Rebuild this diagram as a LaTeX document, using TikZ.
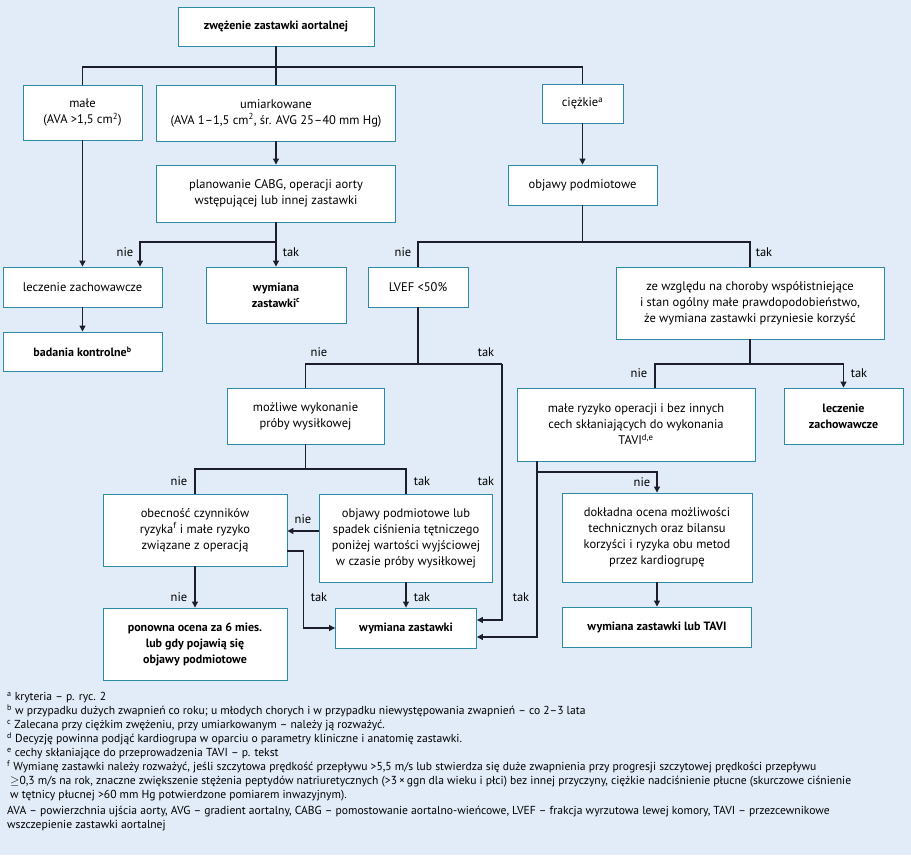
\documentclass[tikz,border=0pt]{standalone}
\usepackage{fontspec}
\setmainfont{PT Sans}
\usetikzlibrary{arrows.meta,positioning,calc}
\definecolor{panelbg}{HTML}{E1ECF8}
\definecolor{boxedge}{HTML}{2B8AA6}
\definecolor{linkcol}{HTML}{1C1F2B}
\newcommand\boxsz{\fontsize{12.5}{16}\selectfont}
\newcommand\boldsz{\fontsize{12}{16}\selectfont\bfseries}
\newcommand\notesz{\fontsize{11.6}{14}\selectfont}
\tikzset{
  flowarr/.style={-{Triangle[length=6pt,width=6pt]}, line width=1.1pt, draw=linkcol},
  flowline/.style={line width=1.1pt, draw=linkcol},
  flowbox/.style={draw=boxedge, fill=white, line width=0.9pt, align=center, inner sep=2pt},
}

\begin{document}
\begin{tikzpicture}[
  x=1pt, y=-1pt,
  font=\boxsz,
  bx/.style 2 args={flowbox, minimum width=#1pt, minimum height=#2pt},
  hb/.style={font=\boldsz},
  lbl/.style={font=\boxsz, inner sep=0pt},
]
  \fill[panelbg] (0,0) rectangle (911,855);

  % boxes
  \node[bx={196}{39}, hb] (stenosis) at (276,26.5) {zwężenie zastawki aortalnej};
  \node[bx={119}{55}] (mild) at (82.5,112.5) {małe\\(AVA >1,5 cm\textsuperscript{2})};
  \node[bx={239}{56}] (moderate) at (276,113) {umiarkowane\\(AVA 1–1,5 cm\textsuperscript{2}, śr. AVG 25–40 mm Hg)};
  \node[bx={81}{39}] (severe) at (582.5,103.5) {ciężkie\textsuperscript{a}};
  \node[bx={239}{57}] (planning) at (276,193.5) {planowanie CABG, operacji aorty\\wstępującej lub innej zastawki};
  \node[bx={149}{40}] (symptoms) at (582.5,185) {objawy podmiotowe};
  \node[bx={159}{40}] (conservA) at (82.5,287) {leczenie zachowawcze};
  \node[bx={140}{56}, hb] (replC) at (276,295) {wymiana\\zastawki\textsuperscript{c}};
  \node[bx={100}{40}] (lvef) at (418,287) {LVEF <50\%};
  \node[bx={268}{72}] (comorb) at (750,303) {ze względu na choroby współistniejące\\i stan ogólny małe prawdopodobieństwo,\\że wymiana zastawki przyniesie korzyść};
  \node[bx={159}{39}, hb] (followup) at (82.5,351.5) {badania kontrolne\textsuperscript{b}};
  \node[bx={157}{56}] (exer) at (305.5,416) {możliwe wykonanie\\próby wysiłkowej};
  \node[bx={238}{73}] (lowrisk) at (636,424.5) {małe ryzyko operacji i bez innych\\cech skłaniających do wykonania\\TAVI\textsuperscript{d,e}};
  \node[bx={119}{56}, hb] (conservB) at (843.5,416) {leczenie\\zachowawcze};
  \node[bx={184}{72}] (risk) at (195,530) {obecność czynników\\ryzyka\textsuperscript{f} i małe ryzyko\\związane z operacją};
  \node[bx={173}{88}] (symLub) at (406,538) {objawy podmiotowe lub\\spadek ciśnienia tętniczego\\poniżej wartości wyjściowej\\w czasie próby wysiłkowej};
  \node[bx={190}{89}] (heart) at (657,537.5) {dokładna ocena możliwości\\technicznych oraz bilansu\\korzyści i ryzyka obu metod\\przez kardiogrupę};
  \node[bx={184}{72}, hb] (reassess) at (195,644) {ponowna ocena za 6 mies.\\lub gdy pojawią się\\objawy podmiotowe};
  \node[bx={141}{40}, hb] (replZ) at (406,628) {wymiana zastawki};
  \node[bx={189}{40}, hb] (replT) at (657,627) {wymiana zastawki lub TAVI};

  % top split
  \coordinate (j1) at (276,67);
  \draw[flowline] (stenosis) -- (j1);
  \draw[flowline] (mild.north) |- (j1) -| (severe.north);
  \draw[flowline] (j1) -- (moderate.north);
  \draw[flowarr] (moderate) -- (planning);
  \draw[flowarr] (severe) -- (symptoms);
  \draw[flowarr] (mild) -- (conservA);
  \draw[flowarr] (conservA) -- (followup);

  % planning
  \coordinate (j2) at (276,242);
  \draw[flowline] (planning) -- (j2);
  \draw[flowarr] (j2) -| ([xshift=57.5pt]conservA.north);
  \draw[flowarr] (j2) -- (replC);
  \node[lbl] (n1) at (125,252) {nie};
  \node[lbl] (t1) at (291,252) {tak};

  % symptoms
  \coordinate (j3) at (582.5,242);
  \draw[flowline] (symptoms) -- (j3);
  \draw[flowline] (lvef.north) |- (j3) -| (comorb.north);
  \node[lbl] (n2) at (403,252) {nie};
  \node[lbl] (t2) at (764,252) {tak};

  % lvef
  \coordinate (j4) at (418,364);
  \coordinate (k4) at (502,364);
  \draw[flowline] (lvef) -- (j4);
  \draw[flowline] (exer.north) |- (j4) -- (k4);
  \draw[flowarr] (k4) |- ([yshift=8pt]replZ.east);
  \node[lbl] (n3) at (319,352) {nie};
  \node[lbl] (t3) at (486,352) {tak};
  \node[lbl] (t4) at (486,481) {tak};

  % comorbidities
  \coordinate (j5) at (750,364);
  \draw[flowline] (comorb) -- (j5);
  \draw[flowline] ([xshift=19pt]lowrisk.north) |- (j5);
  \draw[flowarr] (j5) -| (conservB.north);
  \node[lbl] (n4) at (639,373) {nie};
  \node[lbl] (t5) at (859,373) {tak};

  % low risk
  \coordinate (j6) at (537,472);
  \draw[flowarr] ([xshift=-99pt]lowrisk.south) |- ([yshift=-9pt]replZ.east);
  \draw[flowarr] (j6) -| (heart.north);
  \draw[flowarr] (heart) -- (replT);
  \node[lbl] (n5) at (642,482) {nie};
  \node[lbl] (t6) at (521,597) {tak};

  % exercise test
  \coordinate (j7) at (305.5,469);
  \draw[flowline] (exer) -- (j7);
  \draw[flowline] (risk.north) |- (j7) -| (symLub.north);
  \draw[flowarr] ([yshift=7pt]symLub.west) -- ([yshift=7pt]symLub.west -| risk.east);
  \draw[flowarr] ([yshift=-21pt]risk.east) -- ++(16,0) |- (replZ.west);
  \draw[flowarr] (risk) -- (reassess);
  \draw[flowarr] (symLub) -- (replZ);
  \node[lbl] (n6) at (179,481) {nie};
  \node[lbl] (t7) at (422,481) {tak};
  \node[lbl] (n7) at (303,519) {nie};
  \node[lbl] (t8) at (319,597) {tak};
  \node[lbl] (n8) at (179,597) {nie};
  \node[lbl] (t9) at (422,597) {tak};

  % footnotes
  \node[anchor=north west, align=left, font=\notesz, inner sep=0pt] (notes) at (7,692) {%
    \textsuperscript{a} kryteria – p. ryc. 2\\
    \textsuperscript{b} w przypadku dużych zwapnień co roku; u młodych chorych i w przypadku niewystępowania zwapnień – co 2–3 lata\\
    \textsuperscript{c} Zalecana przy ciężkim zwężeniu, przy umiarkowanym – należy ją rozważyć.\\
    \textsuperscript{d} Decyzję powinna podjąć kardiogrupa w oparciu o parametry kliniczne i anatomię zastawki.\\
    \textsuperscript{e} cechy skłaniające do przeprowadzenia TAVI – p. tekst\\
    \textsuperscript{f} Wymianę zastawki należy rozważyć, jeśli szczytowa prędkość przepływu >5,5 m/s lub stwierdza się duże zwapnienia przy progresji szczytowej prędkości przepływu\\
    \hspace*{3pt}$\geq$0,3 m/s na rok, znaczne zwiększenie stężenia peptydów natriuretycznych (>3\,×\,ggn dla wieku i płci) bez innej przyczyny, ciężkie nadciśnienie płucne (skurczowe ciśnienie\\
    \hspace*{3pt}w tętnicy płucnej >60 mm Hg potwierdzone pomiarem inwazyjnym).\\[2pt]
    AVA – powierzchnia ujścia aorty, AVG – gradient aortalny, CABG – pomostowanie aortalno-wieńcowe, LVEF – frakcja wyrzutowa lewej komory, TAVI – przezcewnikowe\\
    wszczepienie zastawki aortalnej};
\end{tikzpicture}
\end{document}
